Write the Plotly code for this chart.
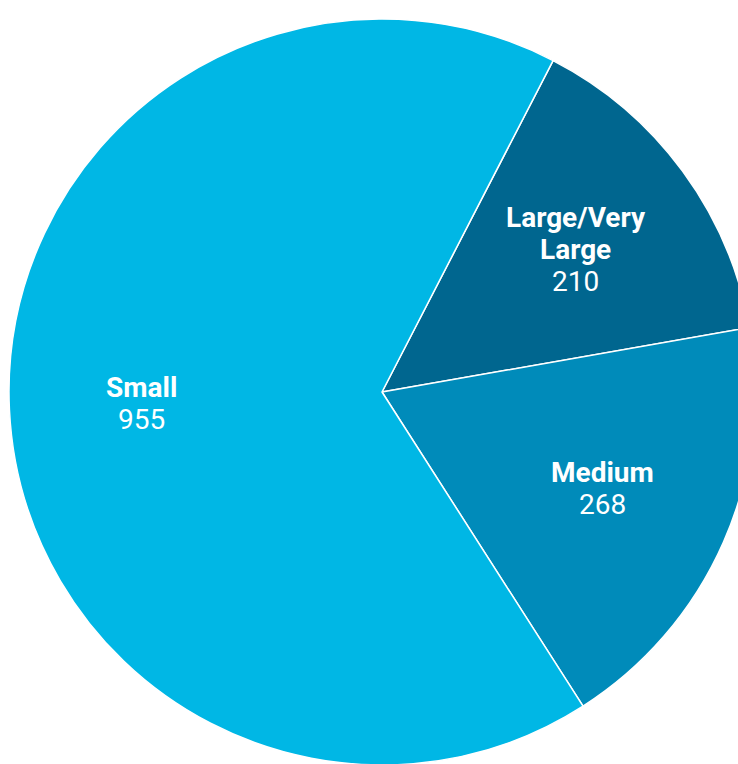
import math
import plotly.graph_objects as go

# Company size breakdown
labels = ["Large/Very Large", "Medium", "Small"]
name_lines = [["Large/Very", "Large"], ["Medium"], ["Small"]]
counts = [210, 268, 955]
colors = ["#00668f", "#008bba", "#00b7e5"]

W, H = 764, 784
cx, cy, r = 382, 392, 373
start_angle = 27.3        # degrees clockwise from 12 o'clock
label_radius = 0.645      # fraction of the pie radius
line_step = 32            # px between label lines
font_family = "Roboto"
font_size = 28

fig = go.Figure(
    go.Pie(
        labels=labels,
        values=counts,
        sort=False,
        direction="clockwise",
        rotation=start_angle,
        marker=dict(colors=colors, line=dict(color="white", width=1.5)),
        textinfo="none",
        hoverinfo="label+value",
        showlegend=False,
        domain=dict(
            x=[(cx - r) / W, (cx + r) / W],
            y=[(H - cy - r) / H, (H - cy + r) / H],
        ),
    )
)

# Slice labels: bold name line(s) over the count, centred on each slice's mid-angle
total = sum(counts)
angle = start_angle
for names, value in zip(name_lines, counts):
    sweep = 360.0 * value / total
    mid = math.radians(angle + sweep / 2)
    angle += sweep
    px = cx + label_radius * r * math.sin(mid)
    py = cy - label_radius * r * math.cos(mid)
    lines = [f"<b>{n}</b>" for n in names] + [f"{value}"]
    n = len(lines)
    for j, txt in enumerate(lines):
        fig.add_annotation(
            x=px / W,
            y=1 - py / H,
            xref="paper",
            yref="paper",
            text=txt,
            showarrow=False,
            xanchor="center",
            yanchor="middle",
            yshift=((n - 1) / 2 - j) * line_step,
            font=dict(family=font_family, size=font_size, color="white"),
        )

fig.update_layout(
    width=W,
    height=H,
    margin=dict(l=0, r=0, t=0, b=0),
    paper_bgcolor="white",
    plot_bgcolor="white",
)

fig.write_html(
    "out.html",
    post_script="document.body.style.overflow='hidden';document.body.style.margin='0';",
)
